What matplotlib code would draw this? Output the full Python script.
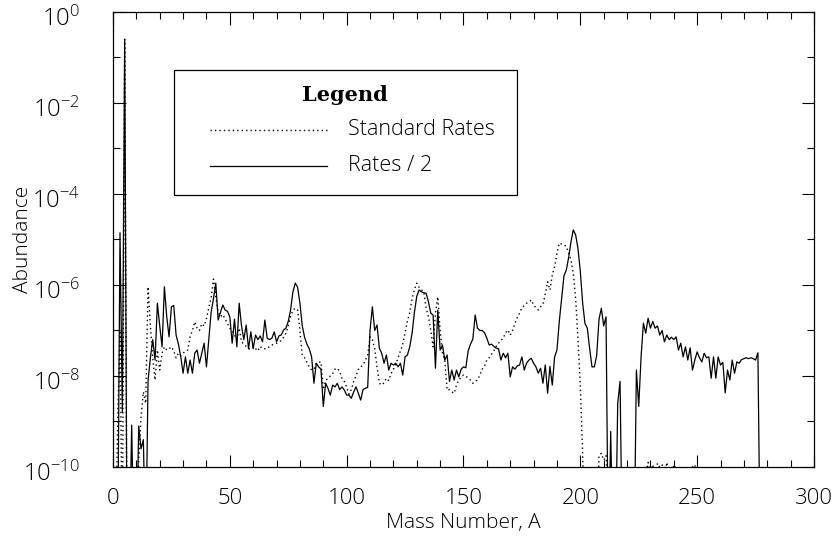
import matplotlib.pyplot as plt
import matplotlib.transforms as mtransforms
import numpy as np
from matplotlib.lines import Line2D
from matplotlib.patches import Rectangle
from matplotlib.ticker import FixedLocator, NullFormatter, LogFormatterSciNotation

# ----- Matplotlib settings -----
plt.rcParams["font.family"] = ["Open Sans", "DejaVu Sans"]
plt.rcParams["font.weight"] = "light"
plt.rcParams["axes.labelweight"] = "light"
plt.rcParams["mathtext.default"] = "regular"

# ----- Data: log10(abundance) for each mass number A -----
# "Rates / 2" (solid), A = 1..277
log_half = [
    -12, -12, -4.85, -8.8, -0.6, -12, -12, -9.08, -12, -12,
    -9.1, -9.6, -9.4, -12, -8.1, -7.6, -7.2, -7.65, -6.4, -6.9,
    -7.36, -6.04, -6.7, -7.14, -6.48, -6.45, -7.1, -7.3, -7.58, -7.94,
    -7.58, -7.94, -7.65, -7.94, -7.5, -7.43, -7.72, -7.5, -7.28, -7.8,
    -7.2, -6.6, -6.3, -5.96, -6.77, -6.6, -6.44, -6.55, -6.58, -6.7,
    -7.28, -6.75, -7.36, -6.4, -6.9, -7.2, -6.88, -7.4, -7.03, -7.4,
    -7.1, -7.2, -7.12, -7.25, -6.77, -7.17, -7.2, -7.17, -7.03, -7.25,
    -7.12, -7.1, -6.99, -6.95, -6.8, -6.55, -6.15, -5.96, -6.05, -6.4,
    -6.9, -7.15, -7.3, -7.4, -7.58, -8.16, -7.72, -7.8, -7.85, -8.67,
    -8.16, -8.27, -8.42, -8.2, -8.24, -8.16, -8.3, -8.24, -8.31, -8.42,
    -8.42, -8.49, -8.35, -8.24, -8.38, -8.53, -8.3, -8.27, -8.25, -7.0,
    -6.48, -7.0, -6.88, -7.39, -7.5, -7.72, -7.54, -7.87, -7.72, -7.76,
    -7.72, -7.8, -7.72, -7.98, -7.58, -7.54, -7.36, -7.06, -6.6, -6.25,
    -6.11, -6.15, -6.17, -6.18, -6.37, -6.62, -6.66, -7.83, -6.55, -7.43,
    -7.32, -7.65, -7.54, -8.12, -7.87, -8.09, -7.87, -8.02, -7.85, -7.8,
    -7.82, -7.45, -7.3, -7.19, -6.66, -6.95, -7.0, -7.0, -7.05, -7.17,
    -7.32, -7.3, -7.35, -7.39, -7.4, -7.65, -7.5, -7.6, -7.5, -8.02,
    -7.8, -7.85, -7.78, -7.76, -7.58, -7.87, -7.72, -7.65, -7.61, -7.72,
    -7.8, -7.94, -7.83, -8.16, -7.76, -8.38, -7.79, -8.2, -7.58, -7.43,
    -6.8, -6.3, -5.8, -5.67, -5.4, -5.05, -4.79, -4.9, -5.2, -5.7,
    -6.4, -6.85, -6.95, -7.4, -7.8, -7.8, -7.55, -6.75, -6.51, -6.9,
    -6.7, -12, -9.22, -12, -12, -8.6, -8.12, -12, -12, -12,
    -12, -12, -12, -7.87, -8.67, -7.58, -6.84, -7.06, -6.73, -6.95,
    -6.8, -6.95, -6.9, -7.1, -7.0, -7.25, -7.1, -7.2, -7.15, -7.2,
    -7.14, -7.43, -7.28, -7.58, -7.36, -7.65, -7.38, -7.87, -7.65, -7.47,
    -7.6, -7.69, -7.5, -7.6, -7.58, -8.05, -7.58, -8.05, -7.58, -7.76,
    -7.7, -8.37, -7.87, -8.09, -7.65, -7.94, -7.69, -7.72, -7.64, -7.62,
    -7.6, -7.62, -7.6, -7.62, -7.65, -7.49, -12,
]

# "Standard Rates" (dotted), A = 1..251
log_standard = [
    -12, -9.0, -7.0, -12, -0.6, -12, -12, -12, -12, -12,
    -9.9, -8.9, -8.35, -8.6, -6.04, -6.9, -7.6, -8.09, -7.43, -7.87,
    -7.5, -7.36, -7.43, -7.4, -7.36, -7.45, -7.6, -7.5, -7.55, -7.5,
    -7.45, -7.43, -7.14, -7.0, -6.81, -6.95, -7.0, -6.85, -6.9, -6.74,
    -6.5, -6.28, -5.87, -6.26, -6.6, -6.7, -6.65, -6.75, -6.85, -6.95,
    -7.0, -7.1, -7.2, -6.95, -7.25, -7.3, -7.35, -7.4, -7.4, -7.35,
    -7.4, -7.45, -7.35, -7.4, -7.4, -7.4, -7.35, -7.32, -7.3, -7.28,
    -7.25, -7.22, -7.15, -7.06, -6.9, -6.7, -6.55, -6.51, -6.55, -7.0,
    -7.55, -7.6, -7.7, -7.8, -7.87, -7.85, -7.72, -7.7, -7.69, -8.3,
    -8.1, -8.05, -8.0, -7.95, -7.85, -7.83, -7.9, -8.05, -8.12, -8.25,
    -8.4, -8.3, -8.12, -8.0, -7.86, -7.8, -7.76, -7.65, -7.55, -7.14,
    -7.2, -7.4, -7.8, -8.16, -8.2, -8.15, -8.05, -8.1, -7.95, -7.85,
    -7.75, -7.6, -7.45, -7.3, -7.05, -6.8, -6.6, -6.3, -6.1, -5.96,
    -6.05, -6.1, -6.16, -6.5, -6.7, -7.0, -7.36, -6.62, -6.26, -6.99,
    -7.5, -7.65, -8.31, -8.3, -8.35, -8.38, -8.2, -8.09, -8.02, -7.98,
    -8.0, -8.05, -8.09, -8.16, -8.12, -8.09, -7.98, -7.85, -7.78, -7.65,
    -7.6, -7.52, -7.45, -7.35, -7.28, -7.22, -7.17, -7.05, -6.99, -7.1,
    -7.0, -6.85, -6.72, -6.62, -6.5, -6.45, -6.4, -6.38, -6.33, -6.44,
    -6.5, -6.55, -6.48, -6.42, -6.2, -5.93, -6.11, -5.78, -5.6, -5.3,
    -5.08, -5.1, -5.12, -5.15, -5.3, -5.45, -5.75, -6.3, -7.2, -8.23,
    -9.7, -12, -12, -12, -12, -12, -12, -9.75, -9.7, -9.85,
    -9.75, -10.5, -12, -12, -12, -12, -12, -12, -12, -12,
    -12, -12, -12, -12, -12, -12, -12, -10.2, -9.9, -10.1,
    -9.95, -10.2, -9.92, -10.0, -9.95, -10.2, -9.9, -10.1, -10.3, -9.95,
    -10.05, -10.3, -10.5, -10.2, -10.0, -10.3, -10.6, -10.0, -9.95, -10.2,
    -12,
]

mass_half = np.arange(1, len(log_half) + 1)
mass_standard = np.arange(1, len(log_standard) + 1)

labels = ["Standard Rates", "Rates / 2"]
y_major = [1e0, 1e-2, 1e-4, 1e-6, 1e-8, 1e-10]
y_minor = [1e-1, 1e-3, 1e-5, 1e-7, 1e-9]


def main():
    fig = plt.figure(figsize=(8.37, 5.37), dpi=100)
    ax = fig.add_axes([0.135, 0.1304, 0.8375, 0.8473])

    dotted = (0, (1, 2.2))
    ax.plot(mass_standard, np.power(10.0, log_standard), color="black",
            lw=1.0, linestyle=dotted)
    ax.plot(mass_half, np.power(10.0, log_half), color="black", lw=0.9)

    ax.set_yscale("log")
    ax.set_xlim(0, 300)
    ax.set_ylim(1e-10, 1e0)

    ax.xaxis.set_major_locator(FixedLocator(np.arange(0, 301, 50)))
    ax.xaxis.set_minor_locator(FixedLocator(np.arange(0, 301, 10)))
    ax.yaxis.set_major_locator(FixedLocator(y_major))
    ax.yaxis.set_major_formatter(LogFormatterSciNotation())
    ax.yaxis.set_minor_locator(FixedLocator(y_minor))
    ax.yaxis.set_minor_formatter(NullFormatter())

    ax.tick_params(which="both", direction="in", top=True, right=True,
                   width=0.8, colors="black")
    ax.tick_params(which="major", length=9)
    ax.tick_params(which="minor", length=5)
    ax.tick_params(axis="x", which="major", pad=15, labelsize=16)
    ax.tick_params(axis="y", which="major", pad=24, labelsize=17)
    for sp in ax.spines.values():
        sp.set_linewidth(0.9)

    # IDL puts the y labels a little below their tick marks
    shift = mtransforms.ScaledTranslation(0, -3 / 72, fig.dpi_scale_trans)
    for lab in ax.get_yticklabels():
        lab.set_transform(lab.get_transform() + shift)

    ax.set_xlabel("Mass Number, A", fontsize=15)
    ax.set_ylabel("Abundance", fontsize=15)
    ax.xaxis.set_label_coords(0.5, -0.124)
    ax.xaxis.label.set_va("center")
    ax.yaxis.set_label_coords(-0.128, 0.5)
    ax.yaxis.label.set_va("center")

    # ----- Legend box (IDL style) -----
    tr = ax.transAxes
    ax.add_patch(Rectangle((0.087, 0.598), 0.489, 0.2745, transform=tr,
                           fill=False, edgecolor="black", lw=0.9))
    ax.text(0.331, 0.818, "Legend", transform=tr, ha="center", va="center",
            fontsize=15, fontweight="bold", family="DejaVu Serif")
    ax.add_line(Line2D([0.138, 0.305], [0.741, 0.741], transform=tr,
                       color="black", lw=1.0, linestyle=dotted))
    ax.add_line(Line2D([0.138, 0.305], [0.6615, 0.6615], transform=tr,
                       color="black", lw=0.9))
    ax.text(0.335, 0.741, labels[0], transform=tr, ha="left", va="center",
            fontsize=15.5)
    ax.text(0.335, 0.6615, labels[1], transform=tr, ha="left", va="center",
            fontsize=15.5)

    fig.savefig("out.png", dpi=100)


if __name__ == "__main__":
    main()
